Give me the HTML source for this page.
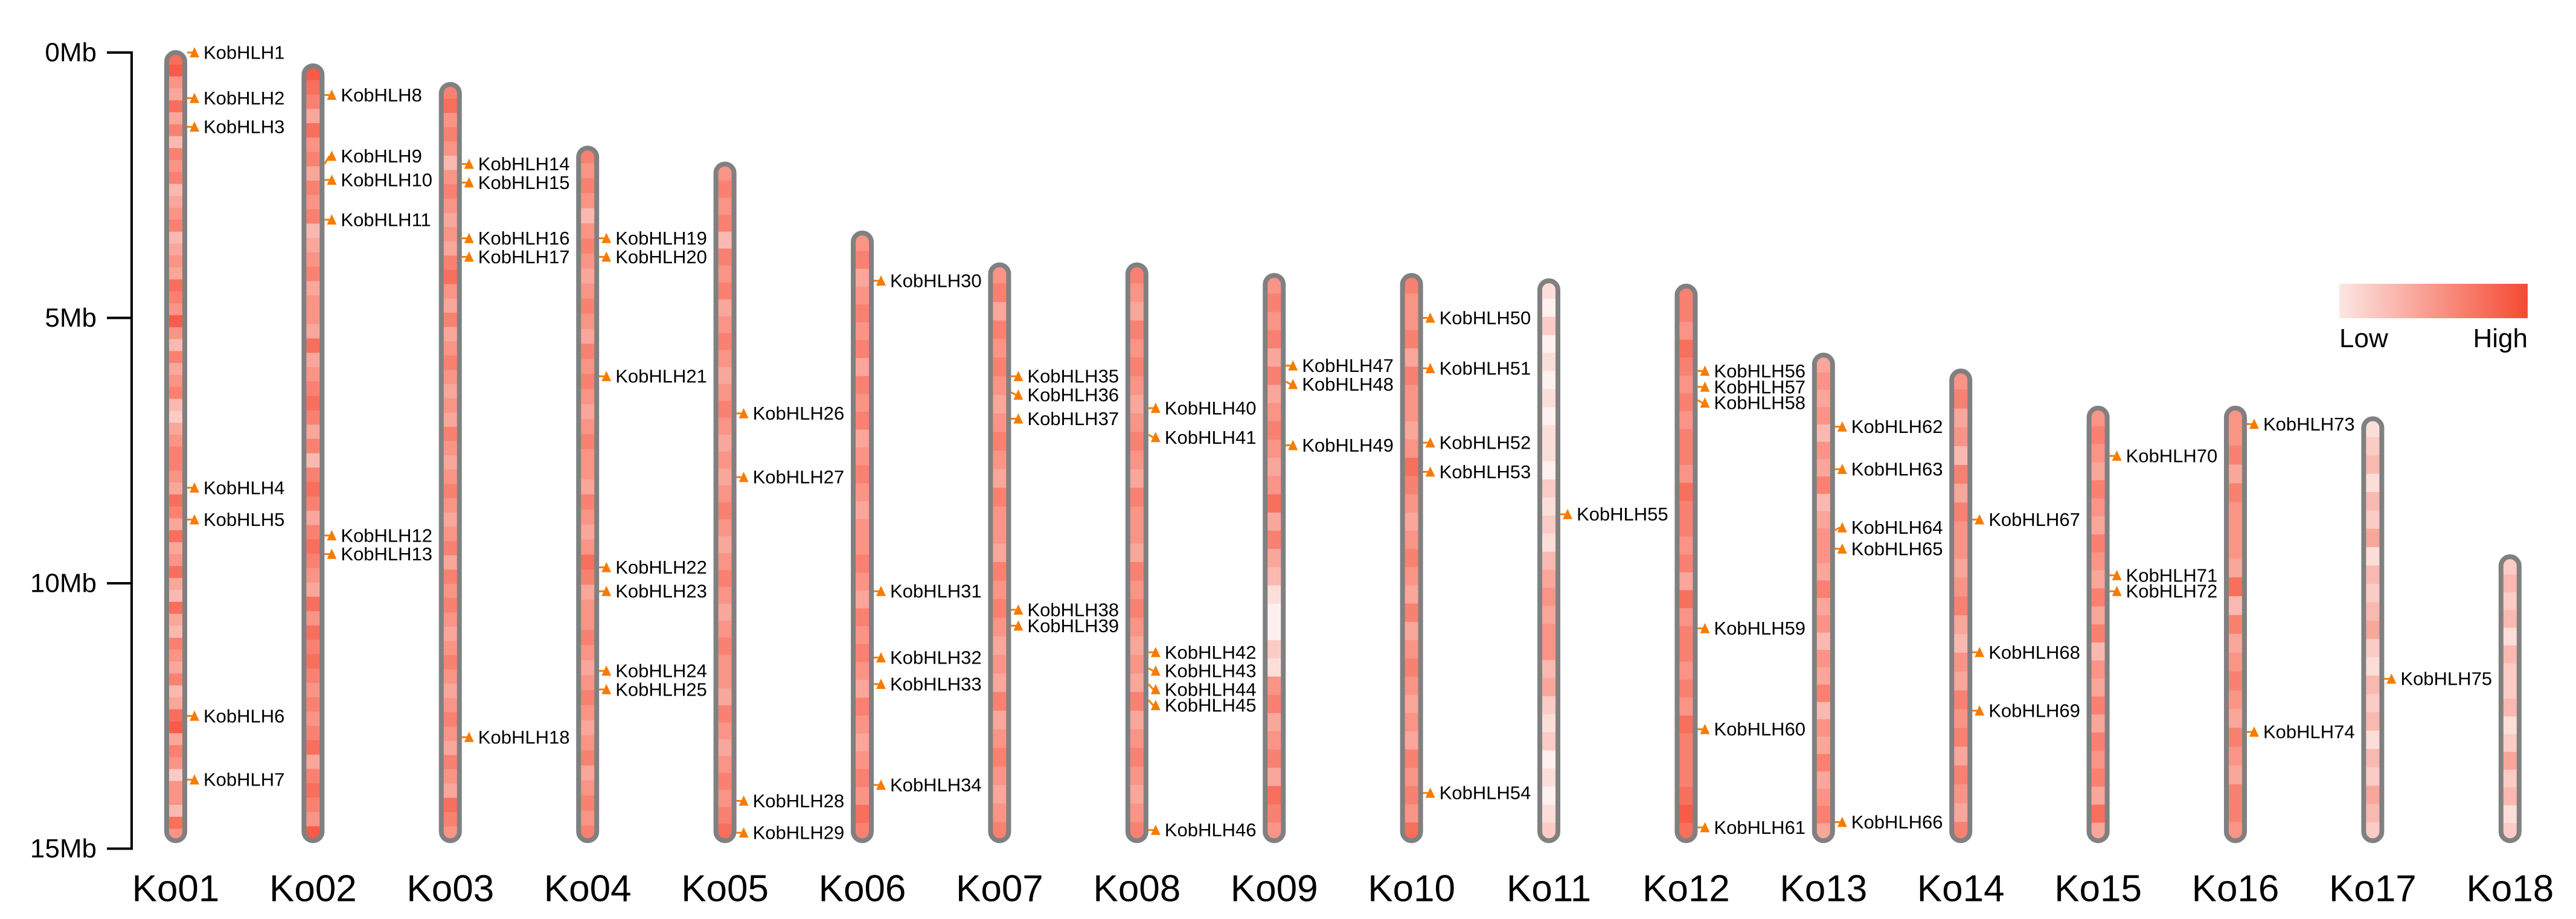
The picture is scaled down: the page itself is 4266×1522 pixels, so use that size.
<!DOCTYPE html>
<html><head><meta charset="utf-8"><style>
html,body{margin:0;padding:0;background:#fff;}
svg{display:block;font-family:"Liberation Sans",Arial,sans-serif;}
</style></head><body>
<svg id="chart" width="4266" height="1522" viewBox="0 0 4266 1522">
<defs>
<linearGradient id="lg" x1="0" x2="1" y1="0" y2="0">
<stop offset="0" stop-color="#fce6e3"/><stop offset="1" stop-color="#f54a32"/>
</linearGradient>
</defs>
<g id="axis"></g>
<g id="chroms"></g>
<g id="genes"></g>
<g>
<rect x="3874" y="470" width="312" height="57" fill="url(#lg)"/>
<text x="3874" y="575" font-size="44" fill="#000">Low</text>
<text x="4186" y="575" font-size="44" fill="#000" text-anchor="end">High</text>
</g>
</svg>
<script>
const chromNames = ["Ko01","Ko02","Ko03","Ko04","Ko05","Ko06","Ko07","Ko08","Ko09","Ko10","Ko11","Ko12","Ko13","Ko14","Ko15","Ko16","Ko17","Ko18"];
const chromStart = [0,0.25,0.6,1.8,2.1,3.4,4.0,4.0,4.2,4.2,4.3,4.4,5.7,6.0,6.7,6.7,6.9,9.5];
const chromEnd = [14.85,14.85,14.85,14.85,14.85,14.85,14.85,14.85,14.85,14.85,14.85,14.85,14.85,14.85,14.85,14.85,14.85,14.85];
const density = [
"785474636563456345476585364563245665476474574374365463478465255375",
"876475646563456455474567646367646765475767656567467658",
"67565356545467546456545465456545646565456545654654765",
"6565356545654656545655465457645565456545645656",
"5656365645654565454565456545655465456567",
"5645656465645654556546565465456576",
"5646565456546554656545464565456",
"6546565456546554656545464565456",
"5656464565457464310021564564765",
"6556465545765456546456545465657",
"1020101011021213454553421201012",
"6657656566576656475665657666787",
"4545354634554645354635464564",
"5645364655456435465646546",
"565465465464635464656474",
"55646555473645654654665",
"12313241323421323132432",
"2323132231242312"
];
const genePos = [0.0,0.86,1.4,8.2,8.8,12.5,13.7, 0.8,2.1,2.4,3.15,9.1,9.45, 2.1,2.45,3.5,3.85,12.9, 3.5,3.85,6.1,9.7,10.15,11.65,12.0, 6.8,8.0,14.1,14.7, 4.3,10.15,11.4,11.9,13.8, 6.1,6.4,6.9,10.5,10.8, 6.7,7.2,11.3,11.6,11.9,12.2, 14.65, 5.9,6.2,7.4, 5.0,5.95,7.35,7.9,13.95, 8.7, 6.0,6.3,6.55,10.85,12.75,14.6, 7.05,7.85,9.0,9.35,14.5, 8.8,11.3,12.4, 7.6,9.85,10.15, 7.0,12.8, 11.8];
const geneChrom = [0,0,0,0,0,0,0, 1,1,1,1,1,1, 2,2,2,2,2, 3,3,3,3,3,3,3, 4,4,4,4, 5,5,5,5,5, 6,6,6,6,6, 7,7,7,7,7,7,7, 8,8,8, 9,9,9,9,9, 10, 11,11,11,11,11,11, 12,12,12,12,12, 13,13,13, 14,14,14, 15,15, 16];
const geneLabelPos = [0.0,0.86,1.4,8.2,8.8,12.5,13.7, 0.8,1.95,2.4,3.15,9.1,9.45, 2.1,2.45,3.5,3.85,12.9, 3.5,3.85,6.1,9.7,10.15,11.65,12.0, 6.8,8.0,14.1,14.7, 4.3,10.15,11.4,11.9,13.8, 6.1,6.45,6.9,10.5,10.8, 6.7,7.25,11.3,11.65,12.0,12.3,14.65, 5.9,6.25,7.4, 5.0,5.95,7.35,7.9,13.95, 8.7, 6.0,6.3,6.6,10.85,12.75,14.6, 7.05,7.85,8.95,9.35,14.5, 8.8,11.3,12.4, 7.6,9.85,10.15, 7.0,12.8, 11.8];
const tickVals = [0,5,10,15];
const tickLabels = ["0Mb","5Mb","10Mb","15Mb"];

const NS="http://www.w3.org/2000/svg";
function y(mb){return 87+mb*87.9;}
function x(i){return 291+i*227.4;}
function mk(tag,attrs,parent){const e=document.createElementNS(NS,tag);for(const k in attrs)e.setAttribute(k,attrs[k]);parent.appendChild(e);return e;}
function col(v){const t=v/9;const a=[253,240,238],b=[245,74,52];return `rgb(${a.map((c,i)=>Math.round(c+(b[i]-c)*t)).join(',')})`;}

const axis=document.getElementById('axis');
const al=mk('line',{x1:218,y1:y(0),x2:218,y2:y(15),stroke:'#000','stroke-width':4},axis);


tickVals.forEach((v,i)=>{
  const t=mk('line',{x1:177,y1:y(v),x2:220,y2:y(v),stroke:'#000','stroke-width':4},axis);
  
  
  const l=mk('text',{x:160,y:y(v),'font-size':44,'text-anchor':'end','dominant-baseline':'central',fill:'#000'},axis);
  l.textContent=tickLabels[i];
  
  
});

const chroms=document.getElementById('chroms');
const W=30;
chromNames.forEach((n,i)=>{
  const cx=x(i), y0=y(chromStart[i]), y1=y(chromEnd[i]);
  const g=mk('g',{},chroms);
  
  
  const cp=mk('clipPath',{id:'cp'+i},g);
  mk('rect',{x:cx-W/2,y:y0,width:W,height:y1-y0,rx:W/2},cp);
  const bg=mk('g',{'clip-path':`url(#cp${i})`},g);
  const d=density[i];const h=(y1-y0)/d.length;
  for(let k=0;k<d.length;k++){
    const b=mk('rect',{x:cx-W/2,y:y0+k*h,width:W,height:h+0.6,fill:col(+d[k])},bg);
    
    
  }
  const o=mk('rect',{x:cx-W/2,y:y0,width:W,height:y1-y0,rx:W/2,fill:'none',stroke:'#808080','stroke-width':8},g);
  
  
  const lab=mk('text',{x:cx,y:1472,'font-size':62,'text-anchor':'middle','dominant-baseline':'central',fill:'#000'},g);
  lab.textContent=n;
  
  
});

const genes=document.getElementById('genes');
genePos.forEach((p,j)=>{
  const cx=x(geneChrom[j]);const gy=y(p);const ly=y(geneLabelPos[j]);
  const g=mk('g',{},genes);
  
  
  mk('path',{d:`M${cx+19} ${gy} L${cx+27} ${ly}`,stroke:'#f57c00','stroke-width':3,fill:'none'},g);
  const tri=mk('path',{d:`M${cx+31} ${ly-9} L${cx+39} ${ly+8} L${cx+23} ${ly+8} Z`,fill:'#f57c00'},g);
  
  
  const t=mk('text',{x:cx+46,y:ly,'font-size':31,'dominant-baseline':'central',fill:'#000'},g);
  t.textContent='KobHLH'+(j+1);
  
  
});
</script>
</body></html>
